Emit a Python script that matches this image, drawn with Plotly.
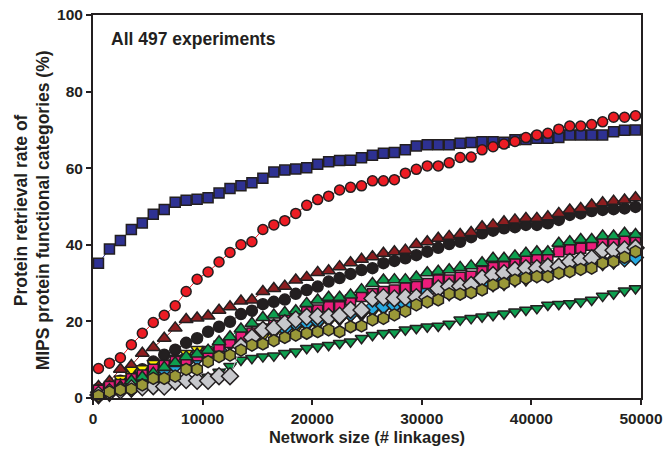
import plotly.graph_objects as go

x_linkages = list(range(500, 50000, 1000))

blue_sq = [35.2, 38.9, 41.1, 44.0, 45.7, 48.0, 49.2, 51.1, 51.6, 51.9,
           52.3, 53.5, 54.7, 55.4, 56.2, 57.4, 59.0, 59.5, 59.8, 60.1,
           61.0, 61.7, 62.0, 62.1, 62.7, 63.4, 63.9, 64.1, 64.8, 65.8,
           66.1, 66.1, 66.1, 66.5, 66.7, 66.9, 66.9, 66.8, 67.4, 67.5,
           67.8, 67.8, 68.0, 68.7, 68.7, 68.7, 68.7, 69.5, 69.9, 70.0]
red_circ = [7.7, 9.1, 10.5, 13.9, 16.9, 19.7, 21.6, 24.1, 27.8, 31.0,
            32.9, 35.5, 38.0, 40.0, 40.8, 44.0, 45.2, 46.3, 48.2, 50.3,
            51.8, 52.7, 54.3, 55.0, 55.4, 56.7, 56.7, 57.0, 58.7, 59.7,
            60.6, 60.6, 61.4, 62.8, 62.9, 64.8, 65.6, 66.3, 67.0, 68.0,
            68.7, 69.1, 70.2, 71.0, 71.0, 71.4, 72.1, 73.3, 73.3, 73.7]
brown_tri = [3.0, 4.3, 7.5, 8.5, 11.7, 13.2, 15.6, 18.3, 20.5, 20.9,
             21.4, 22.9, 23.8, 25.3, 25.6, 27.8, 28.6, 29.2, 30.8, 31.5,
             32.8, 33.2, 34.3, 35.3, 36.2, 36.9, 37.8, 38.2, 38.6, 40.1,
             40.8, 41.7, 42.2, 42.7, 43.2, 44.7, 45.2, 46.0, 46.5, 46.9,
             46.9, 47.3, 48.2, 49.1, 49.5, 50.4, 51.0, 51.4, 51.7, 52.3]
black_circ = [2.5, 3.5, 4.5, 6.0, 7.5, 9.5, 11.3, 12.6, 14.4, 15.6,
              17.3, 18.6, 19.9, 21.9, 22.8, 24.5, 25.1, 25.7, 27.2, 28.2,
              29.1, 30.4, 31.3, 32.4, 33.4, 33.9, 35.2, 35.8, 36.5, 37.3,
              38.2, 39.2, 40.2, 40.8, 42.0, 43.0, 43.7, 44.3, 44.6, 45.2,
              45.2, 45.6, 46.5, 47.8, 48.2, 48.8, 49.1, 49.3, 49.5, 49.9]
green_up = [1.0, 2.0, 3.0, 4.5, 5.5, 6.5, 8.0, 9.2, 10.8, 11.5,
            12.5, 14.7, 16.0, 18.0, 19.5, 21.0, 21.7, 22.3, 22.8, 24.7,
            25.6, 26.3, 26.3, 26.9, 28.3, 29.9, 30.8, 30.9, 30.9, 31.6,
            32.7, 33.1, 33.5, 34.1, 34.5, 35.3, 36.5, 36.5, 37.1, 37.8,
            38.2, 38.2, 40.4, 40.8, 41.4, 41.4, 42.3, 42.3, 43.0, 42.7]
magenta_sq = [2.0, 3.0, 3.5, 5.0, 6.0, 7.5, 8.5, 9.5, 10.0, 11.0,
              12.0, 13.5, 14.5, 16.0, 17.0, 18.0, 19.0, 20.5, 21.2, 22.5,
              23.0, 23.8, 23.8, 25.6, 26.5, 27.2, 27.8, 28.2, 28.8, 29.1,
              29.9, 30.8, 30.8, 31.5, 31.8, 33.0, 34.1, 34.3, 35.2, 36.5,
              36.7, 37.1, 38.2, 38.8, 39.1, 39.9, 40.8, 40.8, 41.3, 41.8]
cyan_dia = [1.5, 2.5, 3.0, 4.0, 5.0, 6.5, 7.5, 8.5, 9.5, 10.5,
            11.7, 12.5, 14.7, 15.1, 16.4, 17.8, 18.6, 18.2, 19.5, 19.8,
            20.2, 20.8, 21.2, 22.0, 22.5, 23.7, 24.0, 24.2, 24.5, 25.5,
            27.9, 28.3, 28.5, 28.7, 29.0, 30.0, 30.8, 31.2, 31.8, 32.3,
            32.7, 33.2, 33.6, 34.0, 34.5, 35.0, 35.5, 36.0, 36.3, 36.7]
yellow_dn = [1.5, 3.0, 5.0, 7.3, 7.7, 9.1, 9.2, 10.4, 11.7, 12.7,
             12.7, 13.2, 13.8, 14.5, 15.2, 16.0, 16.8, 17.5, 18.0, 18.6,
             19.0, 19.9, 20.3, 21.2, 21.5, 22.4, 23.0, 23.2, 24.1, 24.7,
             25.6, 25.9, 26.8, 27.1, 28.0, 28.3, 29.2, 29.5, 30.4, 30.7,
             31.6, 31.9, 32.8, 33.0, 34.0, 34.2, 34.7, 35.1, 35.8, 36.3]
gray_dia = [0.8, 1.5, 2.0, 2.5, 2.8, 3.1, 3.0, 4.3, 4.7, 4.5,
            4.5, 5.7, 5.7, 13.5, 15.8, 17.8, 18.2, 19.5, 20.5, 21.2,
            21.3, 21.2, 21.5, 23.0, 23.0, 26.0, 26.3, 26.0, 26.3, 26.3,
            26.3, 28.6, 29.1, 29.2, 29.5, 31.3, 32.1, 32.6, 33.4, 33.9,
            33.9, 34.3, 34.3, 35.6, 36.0, 36.5, 38.6, 38.6, 38.8, 39.2]
olive_hex = [0.6, 1.6, 2.1, 2.3, 3.4, 5.1, 5.1, 5.7, 7.5, 7.5,
             9.5, 10.8, 11.2, 12.5, 13.8, 14.1, 15.0, 15.8, 16.4, 16.9,
             17.3, 17.8, 17.3, 18.6, 18.8, 20.4, 20.8, 21.7, 22.7, 24.3,
             25.1, 25.6, 27.2, 27.1, 27.5, 28.2, 29.5, 29.9, 30.8, 31.3,
             31.7, 31.7, 32.6, 33.0, 33.6, 33.9, 35.2, 35.6, 36.7, 38.2]
green_dn = [0.0, 0.6, 1.4, 1.7, 2.5, 2.7, 3.5, 3.6, 4.5, 4.7,
            5.5, 6.8, 8.3, 9.9, 10.4, 10.8, 11.0, 11.7, 12.1, 13.0,
            13.4, 13.8, 14.3, 14.7, 15.6, 16.4, 16.9, 17.1, 17.8, 18.2,
            18.6, 18.8, 19.3, 20.4, 20.8, 21.2, 21.6, 22.0, 22.5, 23.0,
            23.4, 24.3, 24.5, 24.7, 25.1, 25.6, 26.6, 27.2, 28.0, 28.6]

x_ticks = [0, 10000, 20000, 30000, 40000, 50000]
y_ticks = [0, 20, 40, 60, 80, 100]

EDGE = "#231F20"
FONT = "Liberation Sans, Arial, sans-serif"

series = [
    (blue_sq, "square", "#2E3192", 10),
    (red_circ, "circle", "#ED1C24", 10),
    (green_dn, "triangle-down", "#0E9F4F", 11),
    (black_circ, "circle", "#231F20", 11),
    (brown_tri, "triangle-up", "#8E1E20", 12),
    (yellow_dn, "triangle-down", "#FFF200", 11),
    (cyan_dia, "diamond", "#27AAE1", 12),
    (magenta_sq, "square", "#EC1C7B", 10),
    (green_up, "triangle-up", "#0E9F4F", 12),
    (gray_dia, "diamond", "#C7C8CC", 13),
    (olive_hex, "hexagon", "#9A9838", 12),
]

fig = go.Figure()
for vals, sym, col, sz in series:
    fig.add_trace(go.Scatter(
        x=x_linkages, y=vals, mode="lines+markers",
        line=dict(color=col, width=1),
        marker=dict(symbol=sym, size=sz, color=col,
                    line=dict(color=EDGE, width=1.5)),
        cliponaxis=False, showlegend=False))

fig.add_annotation(text="<b>All 497 experiments</b>", xref="paper", yref="paper",
                   x=0.029, y=0.937, xanchor="left", yanchor="middle",
                   showarrow=False, font=dict(family=FONT, size=17.5, color=EDGE))
fig.add_annotation(text="<b>Protein retrieval rate of<br>MIPS protein functional categories (%)</b>",
                   xref="paper", yref="paper", x=-61/548, y=0.49,
                   xanchor="center", yanchor="middle", textangle=-90,
                   showarrow=False, font=dict(family=FONT, size=17.5, color=EDGE))

fig.update_layout(
    width=664, height=463,
    margin=dict(l=93, r=23, t=15, b=65, autoexpand=False),
    paper_bgcolor="white", plot_bgcolor="white",
    font=dict(family=FONT, color=EDGE),
    xaxis=dict(range=[0, 50000], tickvals=x_ticks, automargin=False,
               ticktext=["<b>%d</b>" % v for v in x_ticks],
               tickfont=dict(size=15.5, family=FONT, color=EDGE),
               showgrid=False, zeroline=False, showline=True, linecolor=EDGE,
               linewidth=2, mirror=True, ticks="outside", ticklen=5, tickwidth=1.5,
               tickcolor=EDGE,
               title=dict(text="<b>Network size (# linkages)</b>", standoff=6,
                          font=dict(size=16.5, family=FONT, color=EDGE))),
    yaxis=dict(range=[0, 100], tickvals=y_ticks, automargin=False,
               ticktext=["<b>%d</b>" % v for v in y_ticks],
               tickfont=dict(size=15.5, family=FONT, color=EDGE),
               showgrid=False, zeroline=False, showline=True, linecolor=EDGE,
               linewidth=2, mirror=True, ticks="outside", ticklen=5, tickwidth=1.5,
               tickcolor=EDGE),
)

fig.write_html("out.html")
